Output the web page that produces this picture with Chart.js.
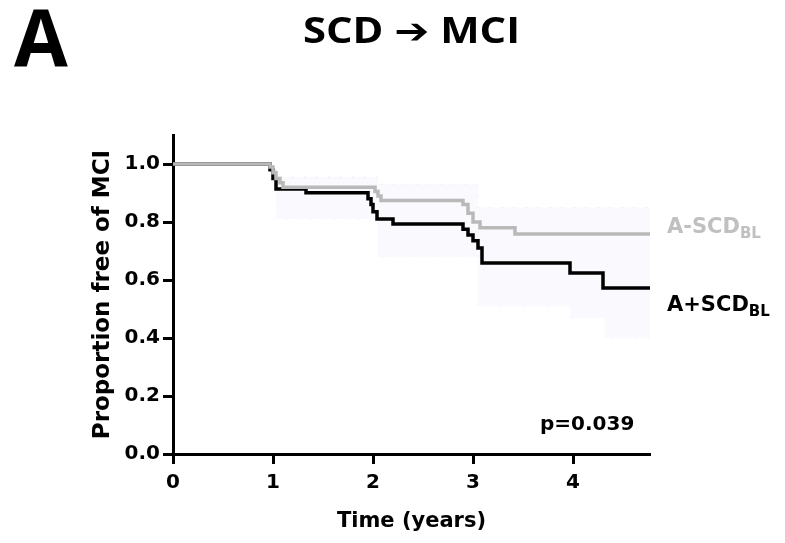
<!DOCTYPE html>
<html>
<head>
<meta charset="utf-8">
<script src="https://cdn.jsdelivr.net/npm/chart.js@4.4.1/dist/chart.umd.min.js"></script>
<style>
	html, body { margin: 0; padding: 0; background: #fff; }
	#kmChart { display: block; }
</style>
</head>
<body>
<canvas id="kmChart" width="785" height="543"></canvas>
<script>
// Tick labels
let xTicks = [0, 1, 2, 3, 4]
let yTicks = [0, 0.2, 0.4, 0.6, 0.8, 1.0]

// Group names (subscript drawn smaller)
let groupNames = ["A-SCD", "A+SCD"]
let groupSub = "BL"
let panelLetter = "A"
let panelTitle = "SCD \u2794 MCI"
let pValueText = "p=0.039"

// A-SCD BL curve (time in years, proportion free of MCI)
let negTimes = [0, 0.97, 1.0, 1.03, 1.07, 1.1, 2.02, 2.05, 2.08, 2.9, 2.95, 3.0, 3.07, 3.42, 4.77]
let negSurv = [1.0, 0.99, 0.97, 0.95, 0.935, 0.92, 0.905, 0.89, 0.874, 0.86, 0.83, 0.80, 0.78, 0.759, 0.759]

// A+SCD BL curve
let posTimes = [0, 0.97, 1.0, 1.03, 1.33, 1.95, 1.98, 2.0, 2.04, 2.2, 2.9, 2.95, 3.0, 3.05, 3.09, 3.97, 4.3, 4.77]
let posSurv = [1.0, 0.98, 0.95, 0.914, 0.901, 0.88, 0.86, 0.835, 0.81, 0.793, 0.775, 0.755, 0.735, 0.71, 0.659, 0.624, 0.572, 0.572]

// Confidence band around A+SCD BL
let bandTimes = [0, 0.97, 1.03, 2.05, 2.95, 3.05, 3.97, 4.32, 4.77]
let bandUpper = [1.0, 1.0, 0.955, 0.93, 0.93, 0.85, 0.85, 0.85, 0.85]
let bandLower = [1.0, 1.0, 0.81, 0.68, 0.68, 0.51, 0.47, 0.40, 0.40]

let xMax = 4.77
let yMax = 1.1

function toPoints(times, values) {
	return times.map((t, i) => ({x: t, y: values[i]}))
}

let axisFont = {family: "DejaVu Sans", weight: "bold", size: 20}

// Extra texts: panel letter, title, group labels, p value
let textPlugin = {
	id: "texts",
	afterDraw(chart) {
		let ctx = chart.ctx
		let area = chart.chartArea
		ctx.save()
		ctx.fillStyle = "#000"
		ctx.textBaseline = "alphabetic"

		ctx.font = "bold 78px 'Open Sans'"
		ctx.textAlign = "left"
		ctx.fillText(panelLetter, 14, 66)

		// title, stretched to the width of the original
		ctx.font = "bold 35px 'Open Sans', 'DejaVu Sans'"
		let w = ctx.measureText(panelTitle).width
		let sx = 217 / w
		ctx.save()
		ctx.translate((area.left + area.right) / 2, 43)
		ctx.scale(sx, 1)
		ctx.textAlign = "center"
		ctx.fillText(panelTitle, 0, 0)
		ctx.restore()

		let labelX = area.right + 17
		drawSubLabel(ctx, groupNames[0], groupSub, labelX, 233, "#c0c0c0")
		drawSubLabel(ctx, groupNames[1], groupSub, labelX, 311, "#000")

		ctx.font = "bold 20px 'DejaVu Sans'"
		ctx.fillStyle = "#000"
		ctx.textAlign = "left"
		ctx.fillText(pValueText, 540, 430)
		ctx.restore()
	}
}

function drawSubLabel(ctx, main, sub, x, y, color) {
	ctx.fillStyle = color
	ctx.textAlign = "left"
	ctx.font = "bold 21px 'DejaVu Sans'"
	ctx.fillText(main, x, y)
	let w = ctx.measureText(main).width
	ctx.font = "bold 15px 'DejaVu Sans'"
	ctx.fillText(sub, x + w, y + 5)
}

let config = {
	type: "line",
	data: {
		datasets: [
			{
				label: groupNames[0] + groupSub,
				data: toPoints(negTimes, negSurv),
				borderColor: "#b9b9b9",
				borderWidth: 3.5,
				stepped: true,
				pointRadius: 0,
				fill: false,
				order: 1,
			},
			{
				label: groupNames[1] + groupSub,
				data: toPoints(posTimes, posSurv),
				borderColor: "#000",
				borderWidth: 3.5,
				stepped: true,
				pointRadius: 0,
				fill: false,
				order: 2,
			},
			{
				label: "upper",
				data: toPoints(bandTimes, bandUpper),
				borderColor: "rgba(232,232,245,0.7)",
				borderWidth: 1,
				borderDash: [2, 10],
				backgroundColor: "rgb(249,249,254)",
				stepped: true,
				pointRadius: 0,
				fill: "+1",
				order: 3,
			},
			{
				label: "lower",
				data: toPoints(bandTimes, bandLower),
				borderColor: "rgba(232,232,245,0.7)",
				borderWidth: 1,
				borderDash: [2, 10],
				stepped: true,
				pointRadius: 0,
				fill: false,
				order: 4,
			},
		],
	},
	options: {
		responsive: false,
		animation: false,
		layout: {
			padding: {left: 85, right: 135, top: 135, bottom: 5},
		},
		plugins: {
			legend: {display: false},
			tooltip: {enabled: false},
			title: {display: false},
		},
		scales: {
			x: {
				type: "linear",
				min: 0,
				max: xMax,
				afterBuildTicks: (scale) => { scale.ticks = xTicks.map(v => ({value: v})) },
				afterFit: (scale) => { scale.height = 84 },
				ticks: {
					font: axisFont,
					color: "#000",
					padding: 7,
					maxRotation: 0,
				},
				grid: {
					drawOnChartArea: false,
					drawTicks: true,
					tickLength: 10,
					tickWidth: 3,
					tickColor: "#000",
				},
				border: {display: true, color: "#000", width: 3},
				title: {
					display: true,
					text: "Time (years)",
					color: "#000",
					font: {family: "DejaVu Sans", weight: "bold", size: 21},
				},
			},
			y: {
				min: 0,
				max: yMax,
				afterBuildTicks: (scale) => { scale.ticks = yTicks.map(v => ({value: v})) },
				afterFit: (scale) => { scale.width = 88 },
				ticks: {
					font: axisFont,
					color: "#000",
					padding: 3,
					callback: (v) => Number(v).toFixed(1),
				},
				grid: {
					drawOnChartArea: false,
					drawTicks: true,
					tickLength: 10,
					tickWidth: 3,
					tickColor: "#000",
				},
				border: {display: true, color: "#000", width: 3},
				title: {
					display: true,
					text: "Proportion free of MCI",
					color: "#000",
					font: {family: "DejaVu Sans", weight: "bold", size: 23},
				},
			},
		},
	},
	plugins: [textPlugin],
}

let kmChart = new Chart(document.getElementById("kmChart").getContext("2d"), config)
</script>
</body>
</html>
